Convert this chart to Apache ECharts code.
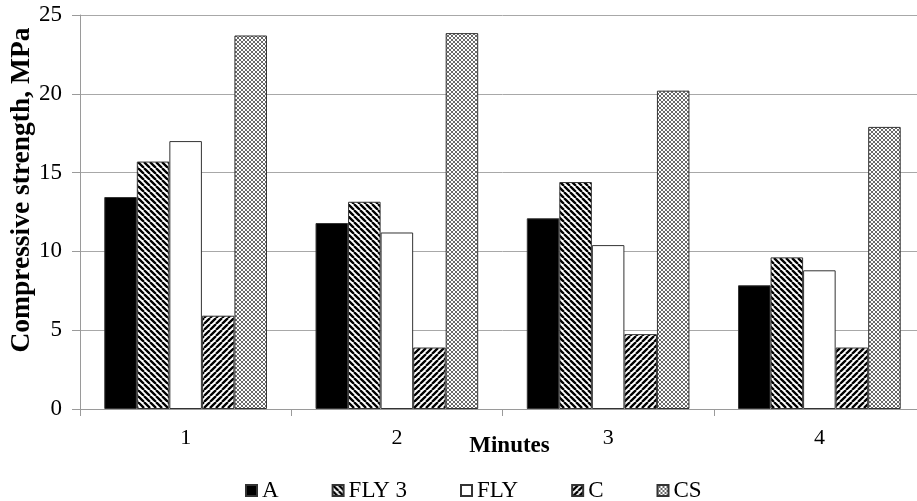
<!DOCTYPE html>
<html><head><meta charset="utf-8">
<script src="https://cdn.jsdelivr.net/npm/echarts@6/dist/echarts.min.js"></script>
<style>html,body{margin:0;padding:0;background:#fff;overflow:hidden}#c{width:940px;height:501px}</style>
</head><body><div id="c"></div>
<script>
const categories = ['1', '2', '3', '4'];
const seriesNames = ['A', 'FLY 3', 'FLY', 'C', 'CS'];
const valuesA    = [13.45, 11.8, 12.1, 7.85];
const valuesFLY3 = [15.7, 13.15, 14.4, 9.62];
const valuesFLY  = [17.0, 11.2, 10.4, 8.8];
const valuesC    = [5.92, 3.9, 4.75, 3.9];
const valuesCS   = [23.7, 23.85, 20.2, 17.9];
const yTicks = [0, 5, 10, 15, 20, 25];

function stripes(dir) {
  const s = 6, c = document.createElement('canvas');
  c.width = s; c.height = s;
  const g = c.getContext('2d');
  g.fillStyle = '#fff'; g.fillRect(0, 0, s, s);
  g.strokeStyle = '#000'; g.lineWidth = 2.3;
  g.beginPath();
  for (let k = -1; k <= 1; k++) {
    if (dir === 'back') { g.moveTo(k * s, 0); g.lineTo(k * s + s, s); }
    else { g.moveTo(k * s, s); g.lineTo(k * s + s, 0); }
  }
  g.stroke();
  return { image: c, repeat: 'repeat' };
}
function cross() {
  const s = 4, c = document.createElement('canvas');
  c.width = s; c.height = s;
  const g = c.getContext('2d');
  g.fillStyle = '#fff'; g.fillRect(0, 0, s, s);
  g.strokeStyle = '#6a6a6a'; g.lineWidth = 1;
  g.beginPath();
  for (let k = -1; k <= 1; k++) {
    g.moveTo(k * s, 0); g.lineTo(k * s + s, s);
    g.moveTo(k * s, s); g.lineTo(k * s + s, 0);
  }
  g.stroke();
  return { image: c, repeat: 'repeat' };
}
const fills = ['#000', stripes('back'), '#fff', stripes('fwd'), cross()];
const data = [valuesA, valuesFLY3, valuesFLY, valuesC, valuesCS];
const font = 'Liberation Serif';

const chart = echarts.init(document.getElementById('c'), null, { renderer: 'canvas' });
chart.setOption({
  animation: false,
  backgroundColor: '#fff',
  grid: { left: 80, top: 15, width: 845, height: 394, containLabel: false },
  legend: {
    left: 245, top: 479, padding: 0,
    itemWidth: 11, itemHeight: 11, itemGap: 53,
    icon: 'rect',
    textStyle: { fontFamily: font, fontSize: 23, color: '#000' },
    data: seriesNames
  },
  xAxis: {
    type: 'category', data: categories,
    axisLine: { lineStyle: { color: '#9a9a9a', width: 1 } },
    axisTick: { show: true, length: 7, lineStyle: { color: '#9a9a9a' } },
    axisLabel: { fontFamily: font, fontSize: 22, color: '#000', margin: 18 },
    name: 'Minutes', nameLocation: 'middle', nameGap: 26, nameMoveOverlap: false,
    nameTextStyle: { fontFamily: font, fontSize: 23, fontWeight: 'bold', color: '#000', padding: [0, 0, 0, 14] }
  },
  yAxis: {
    type: 'value', min: 0, max: 25, interval: 5,
    axisLine: { show: true, lineStyle: { color: '#9a9a9a', width: 1 } },
    axisTick: { show: true, length: 8, lineStyle: { color: '#9a9a9a' } },
    axisLabel: { fontFamily: font, fontSize: 23, color: '#000', margin: 18,
      formatter: v => yTicks.includes(v) ? String(v) : '' },
    splitLine: { lineStyle: { color: '#a8a8a8', width: 1 } }
  },
  graphic: [{
    type: 'text', x: 22, y: 190, rotation: Math.PI / 2,
    style: { text: 'Compressive strength, MPa', fontFamily: font, fontSize: 27.5, fontWeight: 'bold',
      fill: '#000', align: 'center', verticalAlign: 'middle' }
  }],
  series: seriesNames.map((n, i) => ({
    name: n, type: 'bar', data: data[i],
    barGap: '0%', barCategoryGap: '23%',
    itemStyle: { color: fills[i], borderColor: '#333', borderWidth: 1 }
  }))
});
</script></body></html>
